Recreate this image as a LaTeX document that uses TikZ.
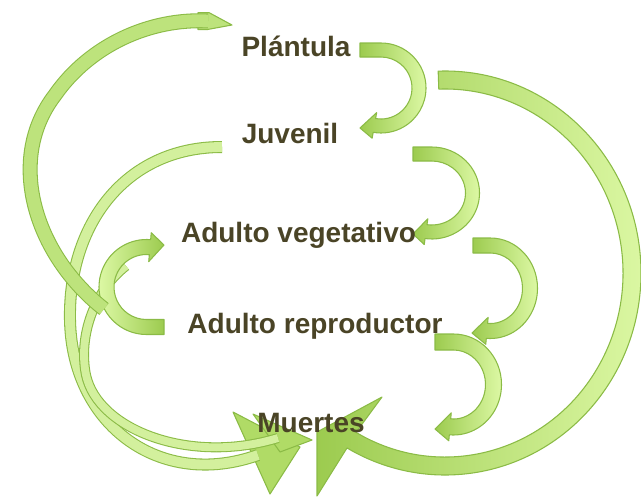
\documentclass[tikz,border=0pt]{standalone}
\usepackage{fontspec}
\setmainfont{Liberation Sans}
\usetikzlibrary{calc}
\definecolor{txt}{HTML}{4A4426}
\definecolor{edge}{HTML}{8BBB46}
\definecolor{gdark}{HTML}{9CCB4F}
\definecolor{glight}{HTML}{DCF8A4}
\definecolor{gmid}{HTML}{BDE37C}
\definecolor{gpale}{HTML}{D3F09D}
\definecolor{ghead}{HTML}{B0DB66}
\tikzset{
  body/.style={draw=edge, line width=0.8pt, line join=round},
  band/.style n args={3}{draw=#3, line width=#2, preaction={draw=edge, line width=#1}},
  lbl/.style={anchor=base, inner sep=0pt, text=txt, font=\fontsize{21}{25}\selectfont\bfseries},
}
% right-hand C-shaped arrow: cx cy rx ry hw tailx endangle tipx tipy
\newcommand{\rarrow}[9]{%
 \pgfmathsetmacro\rxo{#3+#5}\pgfmathsetmacro\ryo{#4+#5}%
 \pgfmathsetmacro\rxi{#3-#5}\pgfmathsetmacro\ryi{#4-#5}%
 \pgfmathsetmacro\rxb{#3+#5+6}\pgfmathsetmacro\ryb{#4+#5+6}%
 \pgfmathsetmacro\rxc{#3-#5-6}\pgfmathsetmacro\ryc{#4-#5-6}%
 \pgfmathsetmacro\yo{#2-#4-#5}\pgfmathsetmacro\yi{#2-#4+#5}%
 \path[body, left color=gdark, right color=glight]
  (#6,\yo) -- (#1,\yo) arc[start angle=-90, end angle=#7, x radius=\rxo, y radius=\ryo]
  -- ({#1+\rxb*cos(#7)},{#2+\ryb*sin(#7)}) -- (#8,#9) -- ({#1+\rxc*cos(#7)},{#2+\ryc*sin(#7)})
  -- ({#1+\rxi*cos(#7)},{#2+\ryi*sin(#7)}) arc[start angle=#7, end angle=-90, x radius=\rxi, y radius=\ryi]
  -- (#6,\yi) -- cycle;}
\begin{document}
\begin{tikzpicture}[x=0.75pt,y=-0.75pt]
\useasboundingbox (0,0) rectangle (641,496);

% thin arrows from the left to Muertes
\fill[ghead, draw=edge, line width=0.8pt, line join=round] (233,412) -- (300,447) -- (270,494) -- cycle;
\draw[band={9pt}{7.4pt}{gpale}] (222,147) .. controls (125,147) and (68,225) .. (70,320) .. controls (72,425) and (160,490) .. (258,455);
\fill[ghead, draw=edge, line width=0.8pt, line join=round] (253,414) -- (312,440) -- (280,452) -- cycle;
\draw[band={7.5pt}{5.9pt}{gpale}] (126,266) .. controls (95,290) and (78,335) .. (86,375) .. controls (98,430) and (190,465) .. (278,438);

% Adulto reproductor -> Adulto vegetativo
\path[body, left color=glight, right color=gdark]
  (164,334.5) -- (146.5,334.5) arc[start angle=90, end angle=275, radius=47.5]
  -- ({146.5+54.5*cos(275)},{287+54.5*sin(275)}) -- (164,245) -- ({146.5+25.5*cos(275)},{287+25.5*sin(275)})
  -- ({146.5+32.5*cos(275)},{287+32.5*sin(275)}) arc[start angle=275, end angle=90, radius=32.5]
  -- (164,319.5) -- cycle;

% big left arrow: Adulto reproductor -> Plantula
\fill[gmid, draw=edge, line width=0.8pt, line join=round] (198,12.6) -- (209,12.6) -- (232,25) -- (207,29.6) -- (198,29.6) -- cycle;
\draw[band={11.25pt}{9.65pt}{gmid}] (104,309) .. controls (35,255) and (5,160) .. (55,95) .. controls (90,45) and (150,18) .. (208,21);

% big right arrow: Plantula -> Muertes
\path[body, left color=gdark, right color=glight]
  ({445+196*cos(-92)},{273+202*sin(-92)}) arc[start angle=-92, end angle=120, x radius=196, y radius=202]
  -- (317,496) -- (317,432) -- (382,397)
  -- ({445+178*cos(120)},{273+184*sin(120)}) arc[start angle=120, end angle=-92, x radius=178, y radius=184]
  -- cycle;

% small transition arrows on the right
\rarrow{381}{88}{38}{38}{7}{360}{100}{360}{128}
\rarrow{431.7}{193}{40.8}{39}{7}{413}{98}{413}{234}
\rarrow{490.4}{288.25}{39.6}{42.75}{7.5}{473}{95}{472}{333}
\rarrow{453.5}{384.5}{40}{42.5}{8}{435}{95}{435}{429}

% labels
\node[lbl] (plantula) at (296,56) {Plántula};
\node[lbl] (juvenil) at (290,143) {Juvenil};
\node[lbl] (adveg) at (298.5,242.5) {Adulto vegetativo};
\node[lbl] (adrep) at (315,333) {Adulto reproductor};
\node[lbl] (muertes) at (311,432) {Muertes};
\end{tikzpicture}
\end{document}
